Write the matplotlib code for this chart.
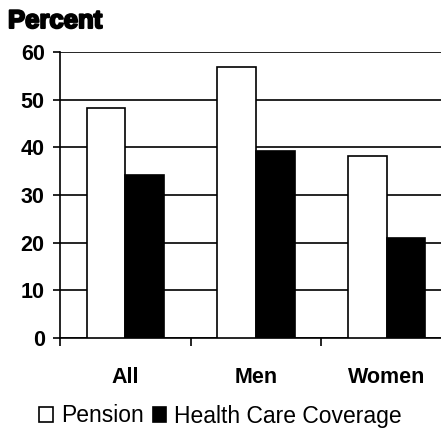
import numpy as np
import matplotlib.pyplot as plt
import matplotlib.patheffects as pe

groups = ["All", "Men", "Women"]
pension = [48.2, 56.8, 38.2]
health = [34.2, 39.2, 21.0]
yticks = [0, 10, 20, 30, 40, 50, 60]

plt.rcParams["font.family"] = ["Liberation Sans", "DejaVu Sans"]

fig = plt.figure(figsize=(4.41, 4.29), dpi=100)
ax = fig.add_axes([60 / 441, 91 / 429, 1 - 60 / 441, 286 / 429])

x = np.arange(len(groups))
w = 0.295
ax.bar(x - w / 2, pension, w, color="white", edgecolor="black",
       linewidth=1.2, label="Pension", zorder=3)
ax.bar(x + w / 2, health, w, color="black", edgecolor="black",
       linewidth=1.2, label="Health Care Coverage", zorder=3)

ax.set_ylim(0, 60)
ax.set_xlim(-0.5, 2.415)
ax.set_yticks(yticks)
ax.set_yticklabels([str(t) for t in yticks], fontsize=15.5, fontweight="bold")
ax.yaxis.grid(True, color="black", linewidth=1.2, zorder=0)
ax.set_axisbelow(True)

ax.set_xticks(x)
ax.set_xticklabels(groups, fontsize=15.5, fontweight="bold")
ax.set_xticks([-0.5, 0.5, 1.5], minor=True)
ax.tick_params(axis="x", which="major", length=0, pad=21)
ax.tick_params(axis="x", which="minor", length=6, width=1.2, direction="out")
ax.tick_params(axis="y", length=5, width=1.2, direction="out", pad=6)

for s in ["top", "right"]:
    ax.spines[s].set_visible(False)
for s in ["left", "bottom"]:
    ax.spines[s].set_linewidth(1.2)

fig.text(8 / 441, 1 - 21 / 429, "Percent", fontsize=18.5, fontweight="bold",
         va="center", ha="left",
         path_effects=[pe.withStroke(linewidth=1.5, foreground="black")])

fig.legend(loc="center", bbox_to_anchor=(0.5, 1 - 416 / 429), ncol=2,
           frameon=False, fontsize=16.5, handlelength=0.6, handleheight=0.6,
           handletextpad=0.35, columnspacing=0.4, borderpad=0)

fig.savefig("out.png", dpi=100)
